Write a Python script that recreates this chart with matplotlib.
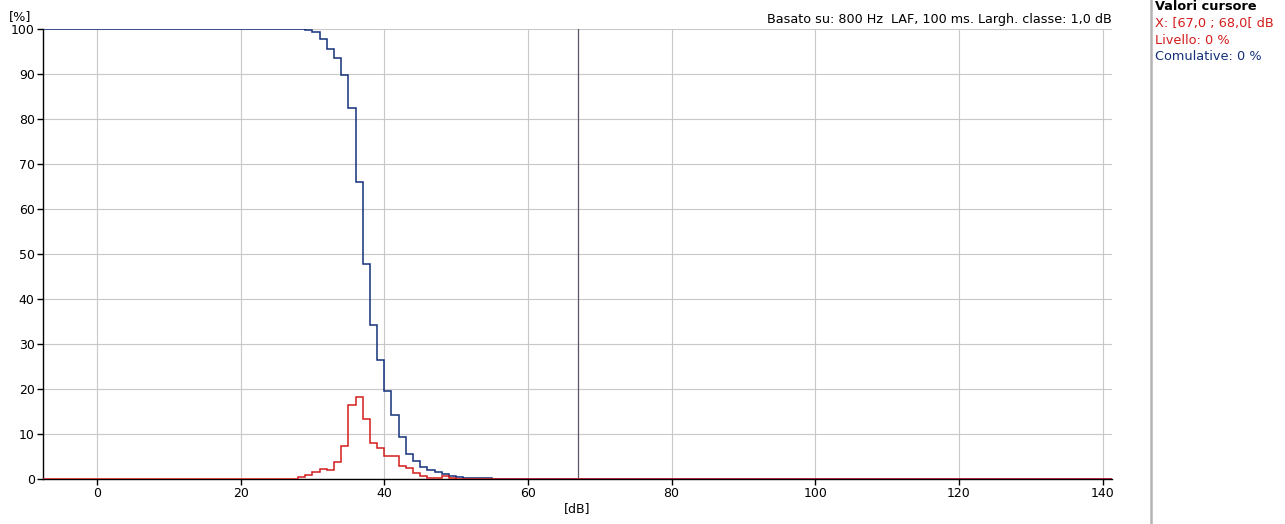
import matplotlib
matplotlib.use("Agg")
import matplotlib.pyplot as plt

# ---- data ----
# class edges in dB: first bin covers everything below 28 dB, last bin everything above 57 dB
class_edges_db = [-8, 28, 29, 30, 31, 32, 33, 34, 35, 36, 37, 38, 39, 40, 41, 42,
                  43, 44, 45, 46, 47, 48, 49, 50, 51, 52, 53, 54, 55, 56, 57, 142]
level_pct = [0, 0.4, 0.8, 1.5, 2.2, 2.0, 3.7, 7.3, 16.4, 18.3, 13.4, 7.9, 6.8, 5.1,
             5.1, 3.0, 2.4, 1.4, 0.7, 0.2, 0.2, 0.6, 0.3, 0.1, 0.1, 0.1, 0.1, 0.1,
             0.1, 0, 0]
cumulative_pct = [100, 100, 99.7, 99.3, 97.8, 95.6, 93.5, 89.8, 82.4, 65.9, 47.7,
                  34.2, 26.4, 19.6, 14.3, 9.4, 5.5, 3.9, 2.6, 1.9, 1.5, 1.1, 0.7,
                  0.4, 0.3, 0.2, 0.2, 0.2, 0.1, 0, 0]
cursor_db = 67
x_ticks = [0, 20, 40, 60, 80, 100, 120, 140]
y_ticks = [0, 10, 20, 30, 40, 50, 60, 70, 80, 90, 100]

title_txt = "Basato su: 800 Hz  LAF, 100 ms. Largh. classe: 1,0 dB"
panel_title = "Valori cursore"
panel_x = "X: [67,0 ; 68,0[ dB"
panel_lev = "Livello: 0 %"
panel_cum = "Comulative: 0 %"

BLUE = "#14307a"
RED = "#d41c1c"
GRID = "#c8c8c8"

plt.rcParams['font.family'] = ['DejaVu Sans']

fig = plt.figure(figsize=(12.85, 5.24), dpi=100)
ax = fig.add_axes([43 / 1285, 1 - 479 / 524, (1112 - 43) / 1285, (479 - 29) / 524])

ax.set_xlim(-7.5, 141.3)
ax.set_ylim(0, 100)

ax.set_xticks(x_ticks)
ax.set_yticks(y_ticks)
ax.grid(True, color=GRID, lw=0.8)
ax.set_axisbelow(True)

for s in ["top", "right"]:
    ax.spines[s].set_visible(False)
ax.spines["left"].set_color("black")
ax.spines["bottom"].set_color("black")
ax.spines["left"].set_linewidth(1.0)
ax.spines["bottom"].set_linewidth(1.0)
ax.tick_params(axis="both", labelsize=9, length=4, width=1.0, colors="black", pad=2)

# cursor line
ax.axvline(cursor_db, color="#5e5366", lw=0.9, zorder=3)

ax.stairs(cumulative_pct, class_edges_db, baseline=None, color=BLUE, lw=1.1, zorder=4)
ax.stairs(level_pct, class_edges_db, baseline=None, color=RED, lw=1.1, zorder=5)

ax.set_xlabel("[dB]", fontsize=9, labelpad=1)
fig.text(9 / 1285, 1 - 23.5 / 524, "[%]", fontsize=9.2, va="bottom", ha="left")
ax.text(1.0, 1.0 + 3 / 450, title_txt, transform=ax.transAxes, ha="right",
        va="bottom", fontsize=9.2)

# right cursor panel
fig.add_artist(plt.Line2D([1151 / 1285, 1151 / 1285], [0, 1], transform=fig.transFigure,
                          color="#b4b4b4", lw=1.8))
px = 1155 / 1285
fig.text(px, 1 - 6 / 524, panel_title, fontsize=9.3, fontweight="bold", va="center", ha="left")
fig.text(px, 1 - 23 / 524, panel_x, fontsize=9.3, color=RED, va="center", ha="left")
fig.text(px, 1 - 40 / 524, panel_lev, fontsize=9.3, color=RED, va="center", ha="left")
fig.text(px, 1 - 57 / 524, panel_cum, fontsize=9.3, color=BLUE, va="center", ha="left")

fig.savefig("out.png", dpi=100)
